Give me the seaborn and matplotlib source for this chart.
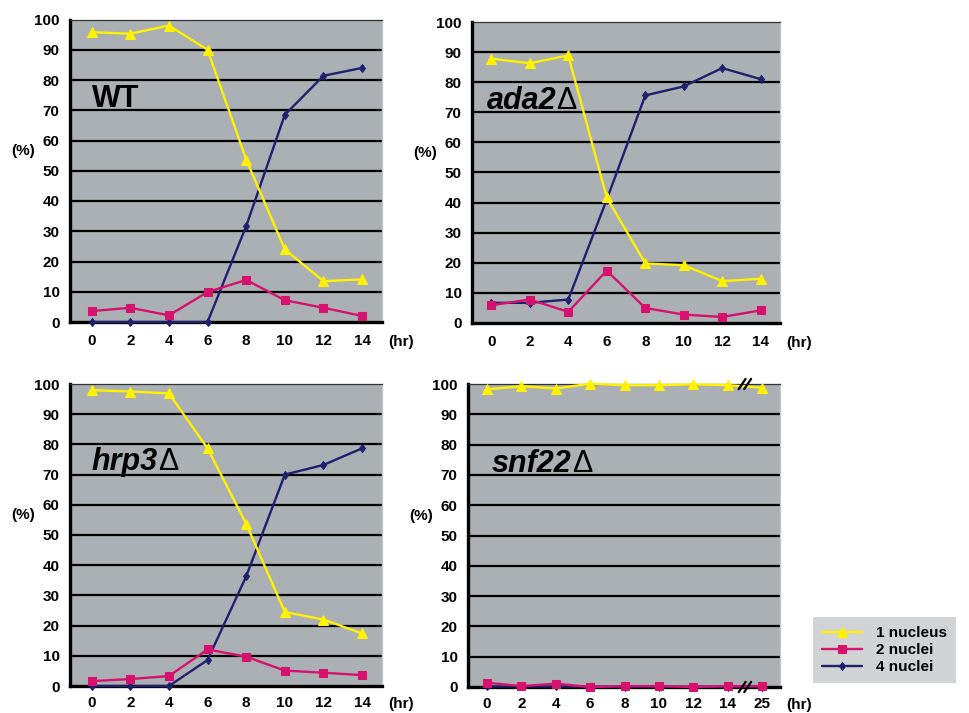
import matplotlib
matplotlib.use("Agg")
import matplotlib.pyplot as plt
import seaborn as sns

# ---------------- data ----------------
hours = [0, 2, 4, 6, 8, 10, 12, 14]
snf_hour_labels = ["0", "2", "4", "6", "8", "10", "12", "14", "25"]

series_names = ["1 nucleus", "2 nuclei", "4 nuclei"]

wt_one = [95.8, 95.3, 98.0, 90.0, 53.7, 24.0, 13.5, 14.1]
wt_two = [3.6, 4.7, 2.2, 9.9, 13.9, 7.2, 4.7, 2.0]
wt_four = [0, 0, 0, 0, 31.7, 68.5, 81.4, 84.0]

ada2_one = [87.8, 86.3, 88.9, 41.7, 19.8, 19.2, 13.9, 14.7]
ada2_two = [5.9, 7.8, 3.7, 17.4, 5.0, 2.8, 2.0, 4.2]
ada2_four = [6.7, 6.7, 7.8, 41.0, 75.6, 78.6, 84.7, 81.0]

hrp3_one = [98.0, 97.5, 96.9, 78.7, 53.7, 24.5, 22.0, 17.4]
hrp3_two = [1.6, 2.3, 3.3, 12.1, 9.7, 5.1, 4.4, 3.6]
hrp3_four = [0, 0, 0, 8.6, 36.3, 70.0, 73.2, 78.7]

snf22_one = [98.2, 99.3, 98.5, 100.1, 99.6, 99.6, 99.9, 99.6, 98.8]
snf22_two = [1.4, 0.3, 1.1, 0.0, 0.3, 0.3, 0.0, 0.3, 0.3]
snf22_four = [0.2, 0.2, 0.2, 0.1, 0.1, 0.1, 0.1, 0.1, 0.1]

y_ticks = [0, 10, 20, 30, 40, 50, 60, 70, 80, 90, 100]

# ---------------- style ----------------
sns.set_style("white")
plt.rcParams["font.family"] = ["Liberation Sans", "DejaVu Sans"]
plt.rcParams["font.weight"] = "bold"
plt.rcParams["text.color"] = "black"
plt.rcParams["xtick.color"] = "black"
plt.rcParams["ytick.color"] = "black"

FACE = "#aab0b3"
COLORS = ["#fff200", "#d6126e", "#20206e"]
MARKERS = ["^", "s", "d"]
MSIZES = [6.5, 5.5, 4.5]

fig = plt.figure(figsize=(9.69, 7.13), dpi=100)

rects = [
    [70 / 969, (713 - 322) / 713, 312 / 969, 302.5 / 713],
    [472 / 969, (713 - 323) / 713, 308 / 969, 301 / 713],
    [70 / 969, (713 - 686) / 713, 312 / 969, 302 / 713],
    [468 / 969, (713 - 687) / 713, 312 / 969, 303 / 713],
]

panels = [
    ("WT", False, hours, [wt_one, wt_two, wt_four]),
    ("ada2", True, hours, [ada2_one, ada2_two, ada2_four]),
    ("hrp3", True, hours, [hrp3_one, hrp3_two, hrp3_four]),
    ("snf22", True, None, [snf22_one, snf22_two, snf22_four]),
]

handles = None
for i, (name, mutant, xs, ys) in enumerate(panels):
    ax = fig.add_axes(rects[i])
    ax.set_facecolor(FACE)
    ax.set_axisbelow(True)
    cat = xs is None
    xvals = list(range(len(snf_hour_labels))) if cat else xs
    for k in range(3):
        sns.lineplot(x=xvals, y=ys[k], ax=ax, color=COLORS[k], marker=MARKERS[k],
                     markersize=MSIZES[k], markeredgecolor=COLORS[k], linewidth=1.7,
                     clip_on=False, label=series_names[k], legend=False, zorder=3 + (2 - k))
    if ax.get_legend() is not None:
        ax.get_legend().remove()
    if handles is None:
        handles, labels = ax.get_legend_handles_labels()

    ax.set_ylim(0, 100)
    ax.set_yticks(y_ticks)
    if cat:
        ax.set_xlim(-0.55, 8.52)
        ax.set_xticks(range(len(snf_hour_labels)))
        ax.set_xticklabels(snf_hour_labels)
    elif i == 1:
        ax.set_xlim(-1.0, 15.0)
        ax.set_xticks(hours)
    else:
        ax.set_xlim(-1.12, 15.03)
        ax.set_xticks(hours)
    ax.yaxis.grid(True, color="black", linewidth=1.6)
    ax.xaxis.grid(False)
    ax.get_ygridlines()[-1].set_visible(False)
    ax.get_ygridlines()[0].set_visible(False)
    ax.tick_params(axis="both", length=0, labelsize=11)
    ax.tick_params(axis="x", pad=8.3 if i < 2 else 7.0)
    ax.tick_params(axis="y", pad=7.5)
    for lab in ax.get_xticklabels() + ax.get_yticklabels():
        lab.set_fontweight("bold")
    ax.set_xlabel("")
    ax.set_ylabel("")

    for side in ["left", "bottom"]:
        ax.spines[side].set_color("black")
        ax.spines[side].set_linewidth(2.4)
    ax.spines["top"].set_color("#333333")
    ax.spines["top"].set_linewidth(0.9)
    ax.spines["right"].set_color("#c5c8ca")
    ax.spines["right"].set_linewidth(1.0)
    for s in ax.spines.values():
        s.set_visible(True)

    # axis unit labels
    ax.annotate("(%)", xy=(0, 56.5), xycoords=ax.get_yaxis_transform(),
                xytext=(-47, 0), textcoords="offset pixels", ha="center", va="center",
                fontsize=11, fontweight="bold")
    ax.annotate("(hr)", xy=(1, 0), xycoords="axes fraction",
                xytext=(6, -20 if i < 2 else -18), textcoords="offset pixels",
                ha="left", va="center", fontsize=11, fontweight="bold")

    # panel name
    tx = 0.15 if cat else (-0.25 if i == 1 else 0.0)
    ty = 71 if i != 2 else 71.5
    t = ax.text(tx, ty, name, fontsize=22, fontweight="bold",
                fontstyle="italic" if mutant else "normal", zorder=6)
    if mutant:
        ax.annotate("\u0394", xy=(1, 0), xycoords=t, fontsize=22, fontweight="normal",
                    ha="left", va="bottom", zorder=6)

    # axis break marks for snf22 panel
    if cat:
        for yb in (0, 100):
            for xb in (7.42, 7.58):
                ax.plot([xb - 0.1, xb + 0.1], [yb - 1.7, yb + 1.7], color="black",
                        linewidth=1.6, clip_on=False, zorder=7)

leg = fig.legend(handles, labels, loc="upper left",
                 bbox_to_anchor=(813 / 969, 1 - 617 / 713), borderaxespad=0,
                 frameon=True, fancybox=False, facecolor="#d1d3d4", edgecolor="none",
                 framealpha=1, fontsize=11, handlelength=2.6, handletextpad=0.9,
                 labelspacing=0.2, borderpad=0.6, numpoints=1)
for txt in leg.get_texts():
    txt.set_fontweight("bold")

fig.savefig("out.png", dpi=100)
